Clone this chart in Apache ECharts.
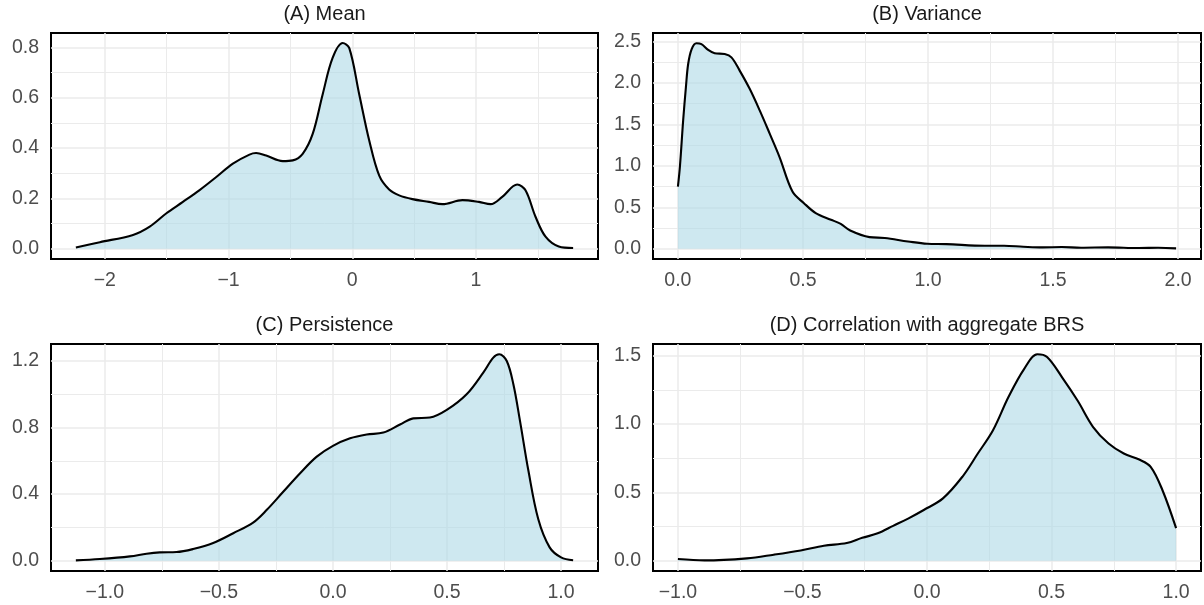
<!DOCTYPE html>
<html>
<head>
<meta charset="utf-8">
<script src="https://cdn.jsdelivr.net/npm/echarts@6/dist/echarts.min.js"></script>
<style>
html,body{margin:0;padding:0;background:#fff;}
#chart{width:1204px;height:605px;}
</style>
</head>
<body>
<div id="chart"></div>
<script>
// ---------- DATA ----------
const panelTitles = ['(A) Mean', '(B) Variance', '(C) Persistence', '(D) Correlation with aggregate BRS'];

const meanX = [-2.234, -2.04, -1.772, -1.637, -1.502, -1.369, -1.234, -1.099, -0.965, -0.831, -0.777, -0.696, -0.562, -0.481, -0.401, -0.32, -0.239, -0.159, -0.078, -0.024, 0.056, 0.137, 0.218, 0.298, 0.379, 0.486, 0.621, 0.728, 0.89, 1.024, 1.118, 1.212, 1.333, 1.4, 1.481, 1.562, 1.669, 1.785];
const meanY = [0.005, 0.026, 0.055, 0.088, 0.141, 0.186, 0.233, 0.285, 0.338, 0.374, 0.380, 0.370, 0.348, 0.351, 0.377, 0.456, 0.614, 0.758, 0.817, 0.797, 0.614, 0.43, 0.29, 0.235, 0.212, 0.197, 0.186, 0.177, 0.193, 0.186, 0.177, 0.206, 0.255, 0.232, 0.127, 0.048, 0.009, 0.003];

const varX = [0, 0.008, 0.021, 0.032, 0.041, 0.055, 0.074, 0.094, 0.121, 0.147, 0.187, 0.214, 0.247, 0.287, 0.327, 0.367, 0.406, 0.458, 0.504, 0.551, 0.612, 0.651, 0.689, 0.766, 0.827, 0.92, 0.997, 1.074, 1.227, 1.304, 1.381, 1.458, 1.535, 1.612, 1.72, 1.843, 1.92, 1.992];
const varY = [0.75, 0.99, 1.55, 1.95, 2.23, 2.41, 2.48, 2.47, 2.40, 2.36, 2.35, 2.31, 2.15, 1.93, 1.67, 1.39, 1.11, 0.69, 0.55, 0.43, 0.35, 0.30, 0.22, 0.14, 0.13, 0.088, 0.06, 0.056, 0.036, 0.036, 0.024, 0.016, 0.02, 0.012, 0.016, 0.008, 0.012, 0.004];

const persX = [-1.127, -1.022, -0.89, -0.817, -0.759, -0.686, -0.613, -0.525, -0.437, -0.35, -0.291, -0.218, -0.145, -0.071, 0, 0.075, 0.148, 0.221, 0.294, 0.352, 0.425, 0.499, 0.586, 0.659, 0.703, 0.729, 0.762, 0.791, 0.82, 0.857, 0.9, 0.95, 1.0, 1.053];
const persY = [0.002, 0.01, 0.026, 0.042, 0.05, 0.052, 0.07, 0.106, 0.165, 0.229, 0.304, 0.414, 0.524, 0.625, 0.69, 0.735, 0.758, 0.77, 0.818, 0.855, 0.86, 0.906, 1.0, 1.13, 1.22, 1.24, 1.2, 1.06, 0.84, 0.54, 0.25, 0.08, 0.02, 0.003];

const corrX = [-1, -0.893, -0.723, -0.615, -0.507, -0.414, -0.322, -0.26, -0.198, -0.136, -0.074, -0.013, 0.064, 0.142, 0.204, 0.265, 0.327, 0.389, 0.443, 0.482, 0.543, 0.605, 0.667, 0.729, 0.79, 0.852, 0.898, 0.945, 1.0];
const corrY = [0.012, 0.002, 0.017, 0.044, 0.075, 0.109, 0.129, 0.167, 0.2, 0.255, 0.31, 0.371, 0.456, 0.614, 0.784, 0.954, 1.197, 1.40, 1.51, 1.49, 1.34, 1.17, 0.978, 0.857, 0.784, 0.74, 0.687, 0.517, 0.238];

// tick values and labels
const meanXTicks = [-2, -1, 0, 1];
const meanXLabels = ['\u22122', '\u22121', '0', '1'];
const meanXMinor = [-1.5, -0.5, 0.5, 1.5];
const meanYTicks = [0, 0.2, 0.4, 0.6, 0.8];
const meanYLabels = ['0.0', '0.2', '0.4', '0.6', '0.8'];
const meanYMinor = [0.1, 0.3, 0.5, 0.7];

const varXTicks = [0, 0.5, 1, 1.5, 2];
const varXLabels = ['0.0', '0.5', '1.0', '1.5', '2.0'];
const varXMinor = [0.25, 0.75, 1.25, 1.75];
const varYTicks = [0, 0.5, 1, 1.5, 2, 2.5];
const varYLabels = ['0.0', '0.5', '1.0', '1.5', '2.0', '2.5'];
const varYMinor = [0.25, 0.75, 1.25, 1.75, 2.25];

const persXTicks = [-1, -0.5, 0, 0.5, 1];
const persXLabels = ['\u22121.0', '\u22120.5', '0.0', '0.5', '1.0'];
const persXMinor = [-0.75, -0.25, 0.25, 0.75];
const persYTicks = [0, 0.4, 0.8, 1.2];
const persYLabels = ['0.0', '0.4', '0.8', '1.2'];
const persYMinor = [0.2, 0.6, 1.0];

const corrXTicks = [-1, -0.5, 0, 0.5, 1];
const corrXLabels = ['\u22121.0', '\u22120.5', '0.0', '0.5', '1.0'];
const corrXMinor = [-0.75, -0.25, 0.25, 0.75];
const corrYTicks = [0, 0.5, 1, 1.5];
const corrYLabels = ['0.0', '0.5', '1.0', '1.5'];
const corrYMinor = [0.25, 0.75, 1.25];

// ---------- LAYOUT ----------
const grids = [
  {left: 51, top: 33, width: 547, height: 226},
  {left: 653, top: 33, width: 548, height: 226},
  {left: 51, top: 344, width: 547, height: 227},
  {left: 653, top: 344, width: 548, height: 227}
];
const xRanges = [[-2.435, 1.986], [-0.0996, 2.0916], [-1.236, 1.162], [-1.1, 1.1]];
const yRanges = [[-0.0408, 0.857], [-0.124, 2.604], [-0.062, 1.302], [-0.0755, 1.5855]];

const panels = [
  {x: meanX, y: meanY, xt: meanXTicks, xl: meanXLabels, xm: meanXMinor, yt: meanYTicks, yl: meanYLabels, ym: meanYMinor},
  {x: varX, y: varY, xt: varXTicks, xl: varXLabels, xm: varXMinor, yt: varYTicks, yl: varYLabels, ym: varYMinor},
  {x: persX, y: persY, xt: persXTicks, xl: persXLabels, xm: persXMinor, yt: persYTicks, yl: persYLabels, ym: persYMinor},
  {x: corrX, y: corrY, xt: corrXTicks, xl: corrXLabels, xm: corrXMinor, yt: corrYTicks, yl: corrYLabels, ym: corrYMinor}
];

const FONT = 'Liberation Sans, Arial, Helvetica, sans-serif';
const gridColor = '#EBEBEB';

function labelFor(ticks, labels) {
  return function (v) {
    for (let i = 0; i < ticks.length; i++) {
      if (Math.abs(ticks[i] - v) < 1e-9) return labels[i];
    }
    return '';
  };
}

const option = {
  animation: false,
  backgroundColor: '#ffffff',
  title: [],
  grid: [],
  xAxis: [],
  yAxis: [],
  series: []
};

panels.forEach(function (p, i) {
  const g = grids[i];
  option.grid.push({left: g.left, top: g.top, width: g.width, height: g.height, show: true,
    borderColor: '#000000', borderWidth: 2, backgroundColor: 'transparent', containLabel: false});
  option.title.push({
    text: panelTitles[i],
    left: g.left + g.width / 2,
    top: g.top - 29,
    textAlign: 'center',
    padding: 0,
    textStyle: {fontFamily: FONT, fontSize: 20, fontWeight: 'normal', color: '#1A1A1A'}
  });
  option.xAxis.push({
    type: 'value', gridIndex: i, min: xRanges[i][0], max: xRanges[i][1],
    axisLine: {show: false},
    axisTick: {show: false, customValues: p.xt},
    axisLabel: {show: true, customValues: p.xt, formatter: labelFor(p.xt, p.xl),
      color: '#4D4D4D', fontFamily: FONT, fontSize: 19.5, margin: 12},
    splitLine: {show: true, lineStyle: {color: gridColor, width: 1.5}}
  });
  option.xAxis.push({
    type: 'value', gridIndex: i, position: 'top', min: xRanges[i][0], max: xRanges[i][1],
    axisLine: {show: false},
    axisTick: {show: false, customValues: p.xm},
    axisLabel: {show: false, customValues: p.xm},
    splitLine: {show: true, lineStyle: {color: gridColor, width: 1}}
  });
  option.yAxis.push({
    type: 'value', gridIndex: i, min: yRanges[i][0], max: yRanges[i][1],
    axisLine: {show: false},
    axisTick: {show: false, customValues: p.yt},
    axisLabel: {show: true, customValues: p.yt, formatter: labelFor(p.yt, p.yl),
      color: '#4D4D4D', fontFamily: FONT, fontSize: 19.5, margin: 12},
    splitLine: {show: true, lineStyle: {color: gridColor, width: 1.5}}
  });
  option.yAxis.push({
    type: 'value', gridIndex: i, position: 'right', min: yRanges[i][0], max: yRanges[i][1],
    axisLine: {show: false},
    axisTick: {show: false, customValues: p.ym},
    axisLabel: {show: false, customValues: p.ym},
    splitLine: {show: true, lineStyle: {color: gridColor, width: 1}}
  });
  option.series.push({
    type: 'line',
    xAxisIndex: 2 * i,
    yAxisIndex: 2 * i,
    data: p.x.map(function (xv, k) { return [xv, p.y[k]]; }),
    smooth: 0.35,
    symbol: 'none',
    lineStyle: {color: '#000000', width: 2.1},
    areaStyle: {color: '#ADD8E6', opacity: 0.6, origin: 'auto'},
    z: 3
  });
});

const chart = echarts.init(document.getElementById('chart'), null, {renderer: 'canvas'});
chart.setOption(option);
</script>
</body>
</html>
